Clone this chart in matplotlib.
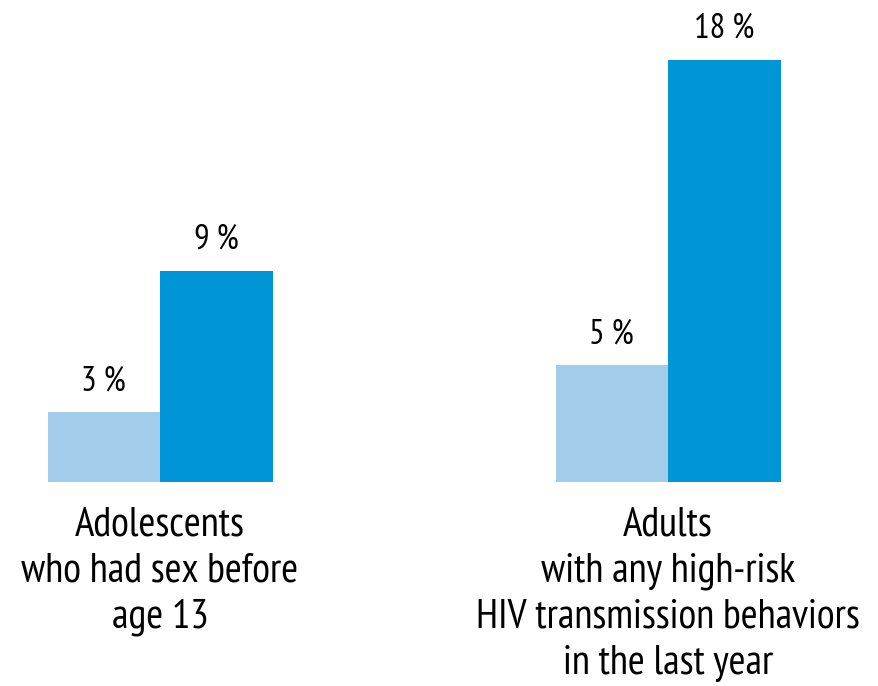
import matplotlib.pyplot as plt

categories = ["Adolescents\nwho had sex before\nage 13",
              "Adults\nwith any high-risk\nHIV transmission behaviors\nin the last year"]
light_vals = [3, 5]
dark_vals = [9, 18]
light_labels = ["3\u2009%", "5\u2009%"]
dark_labels = ["9\u2009%", "18\u2009%"]

plt.rcParams["font.family"] = ["PT Sans Narrow", "DejaVu Sans"]

fig = plt.figure(figsize=(8.79, 6.86), dpi=100)
ax = fig.add_axes([0, 0.2974, 1, 0.7026])

w = 0.2215
x = [0, 1]
ax.bar([i - w / 2 for i in x], light_vals, width=w, color="#A3CBEA", linewidth=0)
ax.bar([i + w / 2 for i in x], dark_vals, width=w, color="#0095D6", linewidth=0)

for i in x:
    ax.annotate(light_labels[i], (i - w / 2, light_vals[i]), xytext=(0, 15),
                textcoords="offset points", ha="center", va="baseline", fontsize=25)
    ax.annotate(dark_labels[i], (i + w / 2, dark_vals[i]), xytext=(0, 16),
                textcoords="offset points", ha="center", va="baseline", fontsize=25)
    ax.annotate(categories[i], (i, 0), xytext=(0, -18), textcoords="offset points",
                ha="center", va="top", fontsize=29.5, linespacing=1.3)

ax.set_xlim(-0.315, 1.415)
ax.set_ylim(0, 20.55)
ax.axis("off")

fig.savefig("out.png", dpi=100)
